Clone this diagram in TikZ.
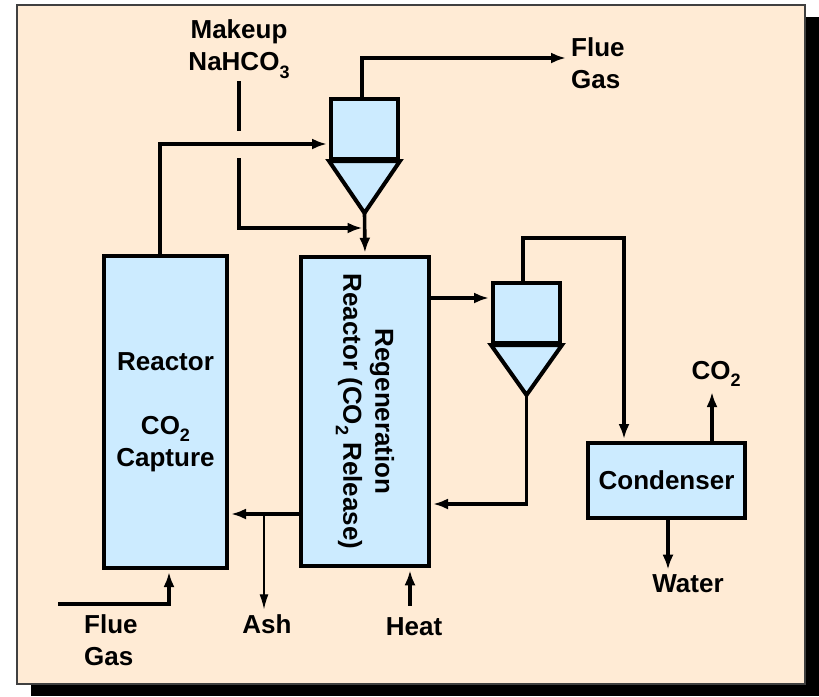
\documentclass[tikz,border=0pt]{standalone}
\usepackage{fontspec}
\setmainfont{Liberation Sans}
\usepackage{xcolor}
\usepackage{tikz}
\usetikzlibrary{positioning,arrows.meta}
\definecolor{panel}{HTML}{FFEBD5}
\definecolor{vessel}{HTML}{CCEBFF}
\newcommand{\lowsub}[1]{\raisebox{-7.5pt}{\fontsize{18}{18}\selectfont #1}}

\begin{document}
\begin{tikzpicture}[x=1pt,y=-1pt,
    unit/.style={draw=black,fill=vessel,line width=4pt,inner sep=0pt},
    lbl/.style={font=\fontsize{26}{32}\selectfont\bfseries,align=center,inner sep=3pt},
    pipe/.style={line width=3.6pt},
    flow/.style={pipe,-{Latex[length=15pt,width=11pt]},shorten >=2pt}]
  \useasboundingbox (0,0) rectangle (819,696);
  % shadow and panel
  \fill[black] (31,17) rectangle (819,696);
  \filldraw[fill=panel,draw=black!75,line width=1.8pt] (17,5) rectangle (805,684);

  % vessels
  \node[unit,lbl,minimum width=123pt,minimum height=312pt] (reactor) at (165.5,412) {Reactor\\[32pt]CO\lowsub{2}\\Capture};
  \node[unit,minimum width=128pt,minimum height=309.5pt] (regen) at (365,411.5) {};
  \node[lbl,rotate=-90] (regentext) at (regen.center) {Regeneration\\Reactor (CO\lowsub{2} Release)};
  \node[unit,minimum width=67pt,minimum height=60pt] (cyc1) at (364.5,129) {};
  \filldraw[unit] (cyc1.south west) -- (cyc1.south east) -- (364.5,213) coordinate (c1tip) -- cycle;
  \node[unit,minimum width=67pt,minimum height=60pt] (cyc2) at (526.5,313) {};
  \filldraw[unit] (cyc2.south west) -- (cyc2.south east) -- (526.5,395) coordinate (c2tip) -- cycle;
  \node[unit,lbl,minimum width=157pt,minimum height=75pt] (cond) at (666.5,480.5) {Condenser};

  % stream labels
  \node[lbl] (makeup) at (239,49) {Makeup\\NaHCO\lowsub{3}};
  \node[lbl,anchor=west,align=left] (gasout) at (568,63) {Flue\\Gas};
  \node[lbl,anchor=west,align=left] (gasin) at (81,640) {Flue\\Gas};
  \node[lbl] (ash) at (267,624) {Ash};
  \node[lbl] (heat) at (414,627) {Heat};
  \node[lbl] (water) at (688,584) {Water};
  \node[lbl] (co2) at (716,374) {CO\lowsub{2}};

  \coordinate (jumpa) at (239,131);
  \coordinate (jumpb) at (239,158);
  \coordinate (join) at (364.5,228);
  \coordinate (ashsplit) at (264,514);
  \coordinate (gasstart) at (58,604);

  % streams
  \draw[flow] ([xshift=-5.5pt]reactor.north) |- ([yshift=-15pt]cyc1.west);
  \draw[flow] ([xshift=-2.5pt]cyc1.north) |- ([yshift=5pt]gasout.west);
  \draw[pipe] (makeup.south) -- (jumpa);
  \draw[flow] (jumpb) |- (join);
  \draw[flow] (c1tip) -- (regen.north);
  \draw[flow] (regen.east |- 0,298) -- (cyc2.west |- 0,298);
  \draw[flow] ([xshift=-3.5pt]cyc2.north) |- (624,238) -- (cond.north -| 624,0);
  \draw[flow] (c2tip) |- (regen.east |- 0,504);
  \draw[flow] (regen.west |- 0,514) -- (reactor.east |- 0,514);
  \draw[line width=1.2pt,-{Latex[length=15pt,width=9pt]},shorten >=2pt] (ashsplit) -- (ashsplit |- ash.north);
  \draw[flow,shorten <=9pt] (heat.north -| 410,0) -- (regen.south -| 410,0);
  \draw[flow] (gasstart) -| ([xshift=3.5pt]reactor.south);
  \draw[flow] (cond.north -| 712,0) -- (co2.south -| 712,0);
  \draw[flow] (cond.south -| 668,0) -- (water.north -| 668,0);
\end{tikzpicture}
\end{document}
